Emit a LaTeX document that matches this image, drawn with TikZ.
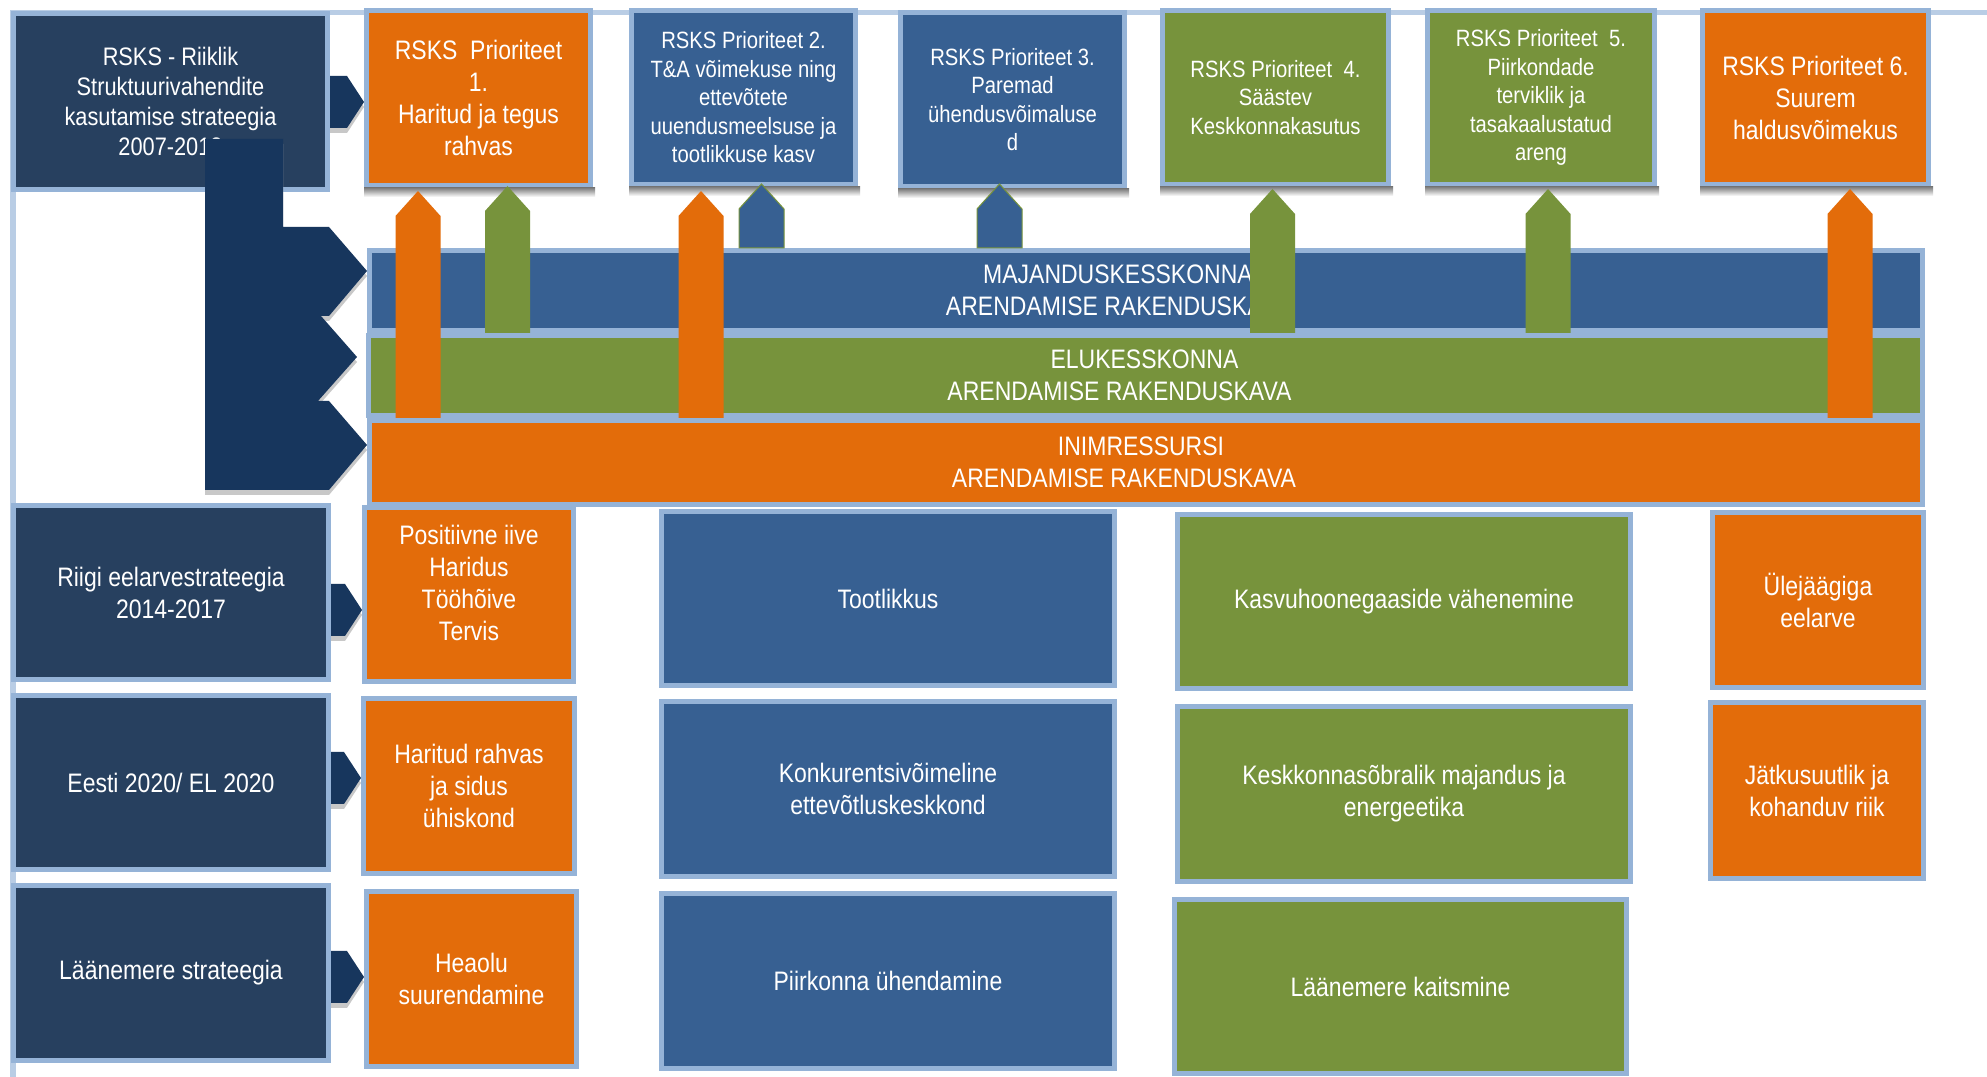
\documentclass[tikz,border=0pt]{standalone}
\usepackage{fontspec}
\setmainfont{Liberation Sans}[FakeStretch=0.86]
\usetikzlibrary{calc}

\definecolor{navy}{HTML}{27405F}
\definecolor{navydk}{HTML}{17365D}
\definecolor{blu}{HTML}{376092}
\definecolor{grn}{HTML}{77933C}
\definecolor{org}{HTML}{E36C0A}
\definecolor{edge}{HTML}{95B3D7}
\definecolor{framec}{HTML}{B9CDE5}
\definecolor{shade}{HTML}{C8C8C8}

\newcommand{\bigtxt}{\fontsize{7.6pt}{9.1pt}\selectfont}
\newcommand{\smalltxt}{\fontsize{6.7pt}{8.1pt}\selectfont}

% block arrow from box #1 to box #2 at height #3
\newcommand{\blockarr}[3]{%
  \fill[navydk, preaction={fill=shade, transform canvas={yshift=-0.05cm}}]
    (#1.east |- 0,#3-26) -- ($(#2.west |- 0,#3-26)+(-17,0)$)
    -- (#2.west |- 0,#3) -- ($(#2.west |- 0,#3+26)+(-17,0)$)
    -- (#1.east |- 0,#3+26) -- cycle;}

% upward arrow: colour, centre x, tip offset, box, band
\newcommand{\prioarr}[5]{%
  \fill[#1] (#2-22.5,0 |- #5.north) -- ($(#2-22.5,0 |- #4.south)+(0,#3+25)$)
    -- ($(#2,0 |- #4.south)+(0,#3)$) -- ($(#2+22.5,0 |- #4.south)+(0,#3+25)$)
    -- (#2+22.5,0 |- #5.north) -- cycle;}

\begin{document}
\begin{tikzpicture}[x=0.01cm, y=-0.01cm,
  box/.style={draw=edge, line width=0.05cm, text=white, align=center, inner sep=0pt, font=\bigtxt},
  wh/.style 2 args={minimum width={(#1-5)*0.01cm}, minimum height={(#2-5)*0.01cm}},
  lead/.style={box, fill=navy},
  prio/.style={box, font=\smalltxt},
  bandtxt/.style={text=white, align=center, font=\bigtxt, inner sep=0pt}
]
\useasboundingbox (0,0) rectangle (1987,1077);
\fill[white] (0,0) rectangle (1987,1077);

% frame
\draw[framec, line width=0.05cm] (13,1077) -- (13,12.5) -- (1987,12.5);

% top row
\node[lead, wh={319}{181}, font=\fontsize{7.2pt}{8.6pt}\selectfont] (rsks) at (170.5,101.5)
  {RSKS - Riiklik\\Struktuurivahendite\\kasutamise strateegia\\2007-2013};
\node[box, fill=org, wh={229}{180}] (p1) at (478.5,98)
  {RSKS\ \ Prioriteet\\1.\\Haritud ja tegus\\rahvas};
\node[prio, fill=blu, wh={229}{179}] (p2) at (743.5,97.5)
  {RSKS Prioriteet 2.\\T\&A võimekuse ning\\ettevõtete\\uuendusmeelsuse ja\\tootlikkuse kasv};
\node[prio, fill=blu, wh={229}{179}] (p3) at (1012.5,99.5)
  {RSKS Prioriteet 3.\\Paremad\\ühendusvõimaluse\\d};
\node[prio, fill=grn, wh={231}{179}] (p4) at (1275.5,97.5)
  {RSKS Prioriteet\ \ 4.\\Säästev\\Keskkonnakasutus};
\node[prio, fill=grn, wh={232}{179}] (p5) at (1541,97.5)
  {RSKS Prioriteet\ \ 5.\\Piirkondade\\terviklik ja\\tasakaalustatud\\areng};
\node[box, fill=org, wh={231}{179}] (p6) at (1815.5,97.5)
  {RSKS Prioriteet 6.\\Suurem\\haldusvõimekus};

\foreach \n in {p1,p2,p3,p4,p5,p6}
  \fill[shade] (\n.south west) rectangle ($(\n.south east)+(2,9)$);

% bands
\node[box, fill=blu, wh={1558}{85},
  label={[bandtxt, xshift=-0.28cm]center:{MAJANDUSKESSKONNA\\ARENDAMISE RAKENDUSKAVA}}] (maj) at (1146,290.5) {};
\node[box, fill=grn, wh={1559}{85},
  label={[bandtxt, xshift=-0.26cm]center:{\hspace*{0.5cm}ELUKESSKONNA\\ARENDAMISE RAKENDUSKAVA}}] (elu) at (1145.5,375.5) {};
\node[box, fill=org, wh={1558}{89},
  label={[bandtxt, xshift=-0.22cm]center:{\hspace*{0.34cm}INIMRESSURSI\\ARENDAMISE RAKENDUSKAVA}}] (inim) at (1146,462.5) {};

% arrows up to the priorities
\prioarr{org}{418}{3}{p1}{inim}
\prioarr{grn}{507.5}{-2}{p1}{elu}
\prioarr{org}{701}{4}{p2}{inim}
\prioarr{blu, draw=grn, line width=0.01cm}{761.5}{-3}{p2}{maj}
\prioarr{blu, draw=grn, line width=0.01cm}{999.5}{-5}{p3}{maj}
\prioarr{grn}{1272.5}{2}{p4}{elu}
\prioarr{grn}{1548}{2}{p5}{elu}
\prioarr{org}{1850}{2}{p6}{inim}

% bracket to the three bands
\fill[navydk, preaction={fill=shade, transform canvas={yshift=-0.05cm}}]
  (205,139) -- (283,139) -- (283,227) -- (329,227) -- (367,271) -- (329,316)
  -- (321,316) -- (357,357) -- (318,401) -- (329,401) -- (367,445) -- (329,490)
  -- (205,490) -- cycle;

% lower rows
\node[lead, wh={320}{179}] (riik) at (171,592.5) {Riigi eelarvestrateegia\\2014-2017};
\node[lead, wh={320}{179}] (eesti) at (171,782.5) {Eesti 2020/ EL 2020};
\node[lead, wh={320}{180}] (laane) at (171,973) {Läänemere strateegia};

\node[box, fill=org, wh={214}{179}, text depth=0.23cm] (iive) at (469,594.5)
  {Positiivne iive\\Haridus\\Tööhõive\\Tervis};
\node[box, fill=org, wh={216}{180}] (harit) at (469,786) {Haritud rahvas\\ja sidus\\ühiskond};
\node[box, fill=org, wh={215}{180}] (heaolu) at (471.5,979) {Heaolu\\suurendamine};

\node[box, fill=blu, wh={458}{179}] (toot) at (888,598.5) {Tootlikkus};
\node[box, fill=blu, wh={458}{180}] (konk) at (888,789) {Konkurentsivõimeline\\ettevõtluskeskkond};
\node[box, fill=blu, wh={458}{180}] (piirk) at (888,981) {Piirkonna ühendamine};

\node[box, fill=grn, wh={458}{179}] (kasvu) at (1404,601.5) {Kasvuhoonegaaside vähenemine};
\node[box, fill=grn, wh={458}{180}] (kesk) at (1404,794) {Keskkonnasõbralik majandus ja\\energeetika};
\node[box, fill=grn, wh={457}{179}] (kaits) at (1400.5,986.5) {Läänemere kaitsmine};

\node[box, fill=org, wh={216}{180}] (ulej) at (1818,600) {Ülejäägiga\\eelarve};
\node[box, fill=org, wh={218}{181}] (jatk) at (1817,790.5) {Jätkusuutlik ja\\kohanduv riik};

% block arrows
\blockarr{rsks}{p1}{102}
\blockarr{riik}{iive}{610}
\blockarr{eesti}{harit}{778}
\blockarr{laane}{heaolu}{977}
\end{tikzpicture}
\end{document}
